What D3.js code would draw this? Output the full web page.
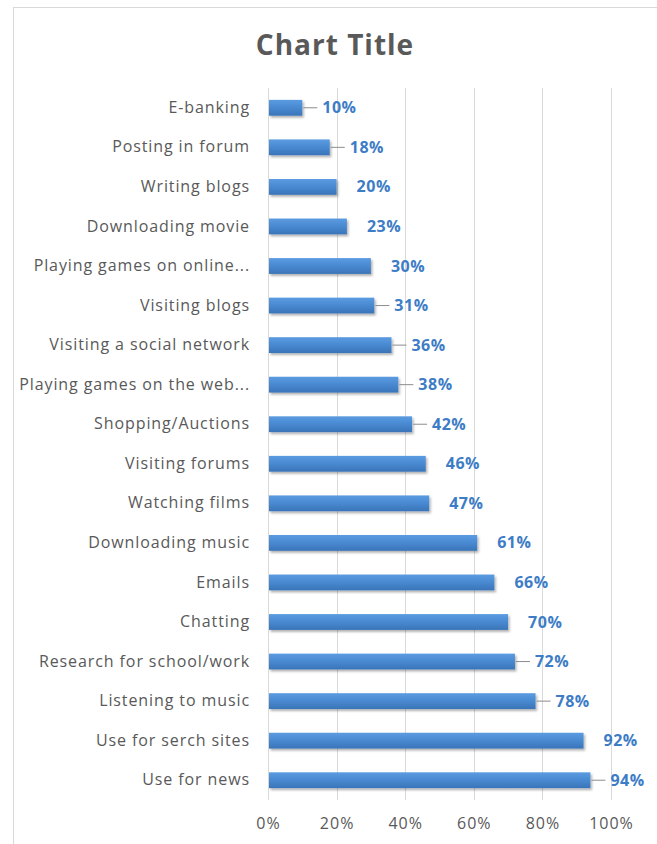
<!DOCTYPE html>
<html>
<head>
<meta charset="utf-8">
<script src="https://cdn.jsdelivr.net/npm/d3@7"></script>
<style>
  body { margin: 0; background: #fff; }
  svg text { font-family: "Open Sans", "DejaVu Sans", sans-serif; }
</style>
</head>
<body>
<svg id="chart" width="657" height="844"></svg>
<script>
/* data, top row first */
var categories = ["E-banking", "Posting in forum", "Writing blogs", "Downloading movie",
  "Playing games on online...", "Visiting blogs", "Visiting a social network",
  "Playing games on the web...", "Shopping/Auctions", "Visiting forums", "Watching films",
  "Downloading music", "Emails", "Chatting", "Research for school/work",
  "Listening to music", "Use for serch sites", "Use for news"];
var values = [10, 18, 20, 23, 30, 31, 36, 38, 42, 46, 47, 61, 66, 70, 72, 78, 92, 94];
var xTicks = [0, 20, 40, 60, 80, 100];
// rows whose data label has a small leader line
var withLeader = ["E-banking", "Posting in forum", "Visiting blogs", "Visiting a social network",
  "Playing games on the web...", "Shopping/Auctions", "Research for school/work",
  "Listening to music", "Use for news"];

var svg = d3.select("#chart"),
    margin = {top: 88, right: 46, bottom: 44, left: 268},
    width = +svg.attr("width") - margin.left - margin.right,
    height = +svg.attr("height") - margin.top - margin.bottom;

var grey = "#595959", blue = "#3d7cc6";

/* chart frame */
svg.append("rect")
    .attr("x", 13.5).attr("y", 7.5)
    .attr("width", 700).attr("height", 900)
    .attr("fill", "none")
    .attr("stroke", "#d9d9d9");

svg.append("text")
    .attr("x", 335).attr("y", 55)
    .attr("text-anchor", "middle")
    .attr("fill", grey)
    .style("font-size", "28px")
    .style("font-weight", "bold")
    .style("letter-spacing", "1px")
    .text("Chart Title");

var x = d3.scaleLinear().domain([0, 100]).range([0, width]);
var y = d3.scaleBand().domain(categories).range([0, height]).paddingInner(0.6).paddingOuter(0.3);

var defs = svg.append("defs");
var grad = defs.append("linearGradient").attr("id", "barGrad")
    .attr("x1", 0).attr("y1", 0).attr("x2", 0).attr("y2", 1);
grad.append("stop").attr("offset", "0%").attr("stop-color", "#5b9be0");
grad.append("stop").attr("offset", "45%").attr("stop-color", "#4a8bd3");
grad.append("stop").attr("offset", "100%").attr("stop-color", "#3a74b8");
var shadow = defs.append("filter").attr("id", "shadow")
    .attr("x", "-5%").attr("y", "-20%").attr("width", "115%").attr("height", "160%");
shadow.append("feDropShadow").attr("dx", 1.5).attr("dy", 2).attr("stdDeviation", 1.2)
    .attr("flood-color", "#000").attr("flood-opacity", 0.3);

var g = svg.append("g")
    .attr("transform", "translate(" + margin.left + "," + margin.top + ")");

/* vertical gridlines */
g.selectAll(".grid")
  .data(xTicks)
  .enter().append("line")
    .attr("class", "grid")
    .attr("x1", function(d) { return Math.round(x(d)) + 0.5; })
    .attr("x2", function(d) { return Math.round(x(d)) + 0.5; })
    .attr("y1", 0).attr("y2", height)
    .attr("stroke", "#d9d9d9")
    .attr("stroke-width", 1);

/* x axis labels */
var xAxis = g.append("g")
    .attr("transform", "translate(0," + height + ")")
    .call(d3.axisBottom(x).tickValues(xTicks).tickSize(0).tickPadding(18)
      .tickFormat(function(d) { return d + "%"; }));
xAxis.select(".domain").remove();
xAxis.selectAll("text").attr("fill", grey).style("font-size", "16px")
    .style("letter-spacing", "1px")
    .style("font-family", "'Open Sans', sans-serif");

/* category labels */
var yAxis = g.append("g")
    .call(d3.axisLeft(y).tickSize(0).tickPadding(18));
yAxis.select(".domain").remove();
yAxis.selectAll("text").attr("fill", grey).style("font-size", "16px")
    .style("letter-spacing", "0.9px")
    .style("font-family", "'Open Sans', sans-serif");

/* bars */
g.selectAll(".bar")
  .data(values)
  .enter().append("rect")
    .attr("class", "bar")
    .attr("x", 1)
    .attr("y", function(d, i) { return y(categories[i]); })
    .attr("width", function(d) { return x(d) - 1; })
    .attr("height", y.bandwidth())
    .attr("fill", "url(#barGrad)")
    .attr("filter", "url(#shadow)");

/* leader lines */
g.selectAll(".leader")
  .data(values.filter(function(d, i) { return withLeader.indexOf(categories[i]) >= 0; }))
  .enter().append("line")
    .attr("class", "leader")
    .attr("x1", function(d) { return x(d) + 1; })
    .attr("x2", function(d) { return x(d) + 15; })
    .attr("y1", function(d) { return y(categories[values.indexOf(d)]) + y.bandwidth() / 2; })
    .attr("y2", function(d) { return y(categories[values.indexOf(d)]) + y.bandwidth() / 2; })
    .attr("stroke", "#8c8c8c");

/* data labels */
g.selectAll(".label")
  .data(values)
  .enter().append("text")
    .attr("class", "label")
    .attr("x", function(d) { return x(d) + 20; })
    .attr("y", function(d, i) { return y(categories[i]) + y.bandwidth() / 2; })
    .attr("dy", "0.35em")
    .attr("fill", blue)
    .style("font-size", "16px")
    .style("font-weight", "bold")
    .style("letter-spacing", "0.5px")
    .text(function(d) { return d + "%"; });
</script>
</body>
</html>
